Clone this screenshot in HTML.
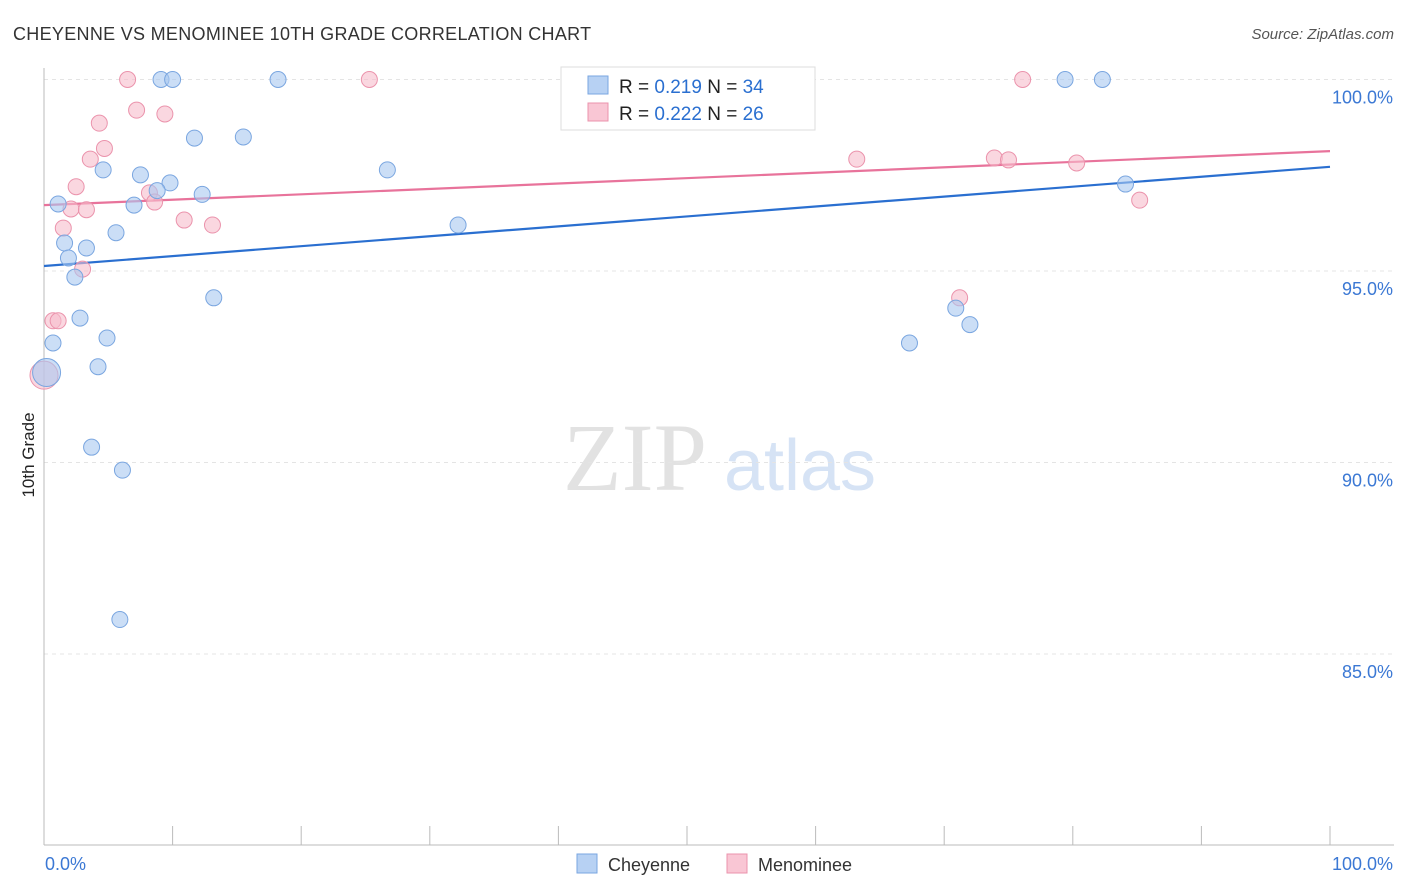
<!DOCTYPE html>
<html><head><meta charset="utf-8"><style>
body{margin:0;background:#fff;font-family:"Liberation Sans",sans-serif}
</style></head><body>
<svg id="chart" width="1406" height="892" xmlns="http://www.w3.org/2000/svg" style="display:block">
<text x="13" y="40" font-size="18" fill="#333" letter-spacing="0.3">CHEYENNE VS MENOMINEE 10TH GRADE CORRELATION CHART</text>
<text x="1394" y="39" font-size="15" fill="#555" text-anchor="end" font-style="italic">Source: ZipAtlas.com</text>
<g>
<text x="635" y="490" font-size="96" fill="#e2e2e2" font-family="Liberation Serif,serif" text-anchor="middle">ZIP</text>
<text x="800" y="490" font-size="72" fill="#d6e3f5" text-anchor="middle">atlas</text>
</g>
<g id="grid"></g>
<g id="axes"></g>
<g id="lines"></g>
<g id="points"></g>
<text transform="translate(34,455) rotate(-90)" font-size="17" fill="#222" text-anchor="middle">10th Grade</text>
<g>
<rect x="561" y="67" width="254" height="63" fill="#fff" stroke="#ddd"/>
<rect x="588" y="76" width="20" height="18" fill="#b7d1f3" stroke="#7aa6e0"/>
<text x="619" y="93" font-size="19" fill="#222">R = <tspan fill="#2a6fd0">0.219</tspan>   N = <tspan fill="#2a6fd0">34</tspan></text>
<rect x="588" y="103" width="20" height="18" fill="#f9c6d4" stroke="#eb93ac"/>
<text x="619" y="120" font-size="19" fill="#222">R = <tspan fill="#2a6fd0">0.222</tspan>   N = <tspan fill="#2a6fd0">26</tspan></text>
</g>
<g>
<rect x="577" y="854" width="20" height="19" fill="#b7d1f3" stroke="#7aa6e0"/>
<text x="608" y="871" font-size="18" fill="#333">Cheyenne</text>
<rect x="727" y="854" width="20" height="19" fill="#f9c6d4" stroke="#eb93ac"/>
<text x="758" y="871" font-size="18" fill="#333">Menominee</text>
</g>
</svg>
<script>
const yTicks=[100,95,90,85];
const yTickLabels=["100.0%","95.0%","90.0%","85.0%"];
const xEndLabels=["0.0%","100.0%"];
const cheyX=[9.1,10.0,18.2,79.4,82.3,11.7,15.5,4.6,26.7,7.5,9.8,8.8,12.3,1.1,7.0,5.6,32.2,1.6,3.3,1.9,2.4,13.2,2.8,4.9,0.7,67.3,70.9,72.0,4.2,0.2,3.7,6.1,5.9,84.1];
const cheyY=[100,100,100,100,100,98.47,98.5,97.64,97.64,97.51,97.3,97.1,97.0,96.75,96.72,96.0,96.2,95.73,95.6,95.34,94.84,94.3,93.77,93.25,93.12,93.12,94.03,93.6,92.5,92.35,90.4,89.8,85.9,97.27];
const cheySize=[1,1,1,1,1,1,1,1,1,1,1,1,1,1,1,1,1,1,1,1,1,1,1,1,1,1,1,1,1,2,1,1,1,1];
const menoX=[6.5,25.3,76.1,7.2,9.4,4.3,4.7,3.6,2.5,63.2,73.9,75.0,80.3,8.2,8.6,2.1,3.3,1.5,10.9,13.1,85.2,3.0,0.7,1.1,71.2,0.0];
const menoY=[100,100,100,99.2,99.1,98.86,98.2,97.92,97.2,97.92,97.95,97.9,97.82,97.04,96.8,96.62,96.6,96.12,96.33,96.2,96.85,95.05,93.7,93.7,94.3,92.28];
const menoSize=[1,1,1,1,1,1,1,1,1,1,1,1,1,1,1,1,1,1,1,1,1,1,1,1,1,2];
const cheyTrend=[95.13,97.72];
const menoTrend=[96.72,98.13];
const NS="http://www.w3.org/2000/svg";
const X0=44,X1=1330,yAt100=79.5,pxPerPct=38.3;
const sx=v=>X0+(X1-X0)*v/100;
const sy=v=>yAt100+(100-v)*pxPerPct;
function mk(tag,attrs,parent){const e=document.createElementNS(NS,tag);for(const k in attrs)e.setAttribute(k,attrs[k]);document.getElementById(parent).appendChild(e);return e;}
yTicks.forEach((t,i)=>{
 const g=mk('line',{x1:X0,x2:1394,y1:sy(t),y2:sy(t),stroke:'#e4e4e4','stroke-dasharray':'4,4'},'grid');
 
 
 const l=mk('text',{x:1393,y:sy(t)+24,'font-size':18,fill:'#3b78d4','text-anchor':'end'},'axes');
 l.textContent=yTickLabels[i];
 
 
});
const ya=mk('line',{x1:X0,x2:X0,y1:68,y2:845,stroke:'#bbb'},'axes');


const xa=mk('line',{x1:X0,x2:1394,y1:845,y2:845,stroke:'#bbb'},'axes');


for(let i=0;i<=10;i++){
 const t=mk('line',{x1:sx(i*10),x2:sx(i*10),y1:826,y2:845,stroke:'#bbb'},'axes');
 
 
}
[[0,'start',45],[100,'end',1393]].forEach((d,i)=>{
 const l=mk('text',{x:d[2],y:870,'font-size':18,fill:'#3b78d4','text-anchor':d[1]},'axes');
 l.textContent=xEndLabels[i];
 
 
});
function trend(tr,color,name){
 const l=mk('line',{x1:sx(0),y1:sy(tr[0]),x2:sx(100),y2:sy(tr[1]),stroke:color,'stroke-width':2.2},'lines');
 
 
}
function pts(xs,ys,ss,fill,stroke,name){
 xs.forEach((x,i)=>{
  const c=mk('circle',{cx:sx(x),cy:sy(ys[i]),r:ss[i]>1?14:8,fill:fill,'fill-opacity':0.6,stroke:stroke,'stroke-width':1},'points');
  
  
 });
}
pts(menoX,menoY,menoSize,'#f7bccc','#eb93ac','menominee-point');
pts(cheyX,cheyY,cheySize,'#a9c8f0','#7aa6e0','cheyenne-point');
trend(cheyTrend,'#2a6fd0','cheyenne-trend-line');
trend(menoTrend,'#e8739b','menominee-trend-line');
</script>
</body></html>
